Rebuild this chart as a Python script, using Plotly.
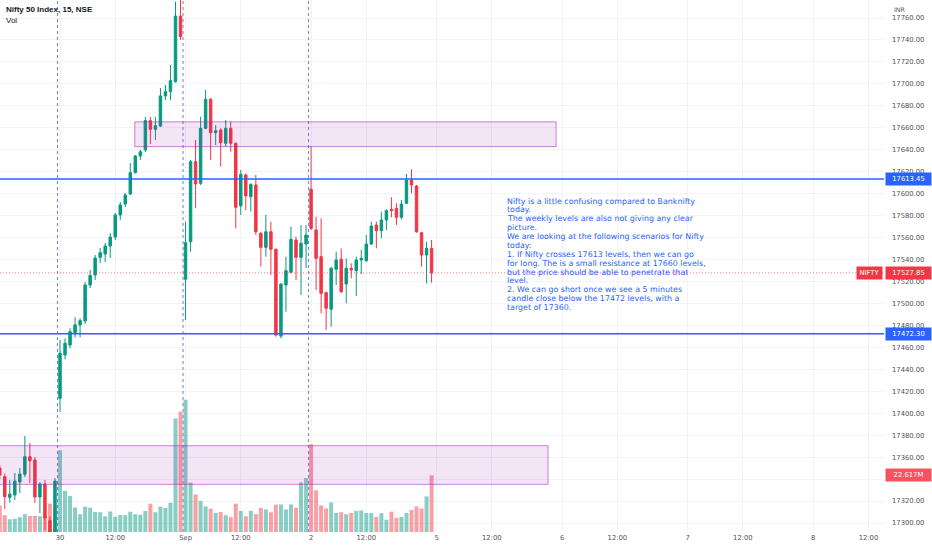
import numpy as np
import plotly.graph_objects as go

# Nifty 50 Index, 15 min candles, NSE: tail of 29 Aug, then 30 Aug, 1 Sep, 2 Sep
# index 0 = 30 Aug 09:15 (first bar of the day)
opens = [
    17350.1, 17342.2, 17323.4, 17325.5, 17337.3, 17344.4, 17360.4, 17357.4, 17323.7, 17335.5, 17302.1, 17288.0,
    17413.6, 17453.0, 17462.1, 17473.3, 17480.4, 17484.0, 17516.8, 17525.9, 17542.0, 17545.0, 17552.3, 17560.5,
    17580.6, 17590.6, 17599.7, 17619.1, 17634.3, 17639.8, 17666.5, 17658.6, 17661.6, 17689.0, 17692.9, 17702.0, 17761.8,
    17522.0, 17556.2, 17629.1, 17609.4, 17659.5, 17686.0, 17655.5, 17658.0, 17645.9, 17659.5, 17645.9, 17588.8,
    17617.0, 17597.2, 17607.9, 17563.9, 17551.1, 17565.3, 17549.3, 17470.3, 17516.8, 17528.4, 17557.8, 17542.0, 17554.1,
    17604.0, 17566.9, 17542.6, 17509.8, 17494.7, 17531.1, 17540.2, 17517.7, 17532.0, 17529.8, 17539.6, 17538.9,
    17554.1, 17571.4, 17566.3, 17576.0, 17585.7, 17586.6, 17578.5, 17591.2, 17612.4, 17607.0, 17564.4, 17544.1, 17550.2,
]
highs = [
    17353.0, 17345.0, 17339.2, 17345.5, 17350.1, 17379.2, 17372.9, 17360.1, 17337.3, 17339.2, 17306.0, 17341.0,
    17466.7, 17468.2, 17477.4, 17487.4, 17486.5, 17519.5, 17530.5, 17544.1, 17550.5, 17555.1, 17564.2, 17582.4,
    17592.4, 17600.6, 17627.9, 17635.2, 17639.8, 17669.8, 17669.8, 17670.1, 17696.2, 17699.0, 17717.2, 17774.9, 17777.6,
    17574.5, 17630.7, 17648.9, 17670.1, 17694.4, 17686.9, 17662.5, 17659.5, 17667.1, 17665.6, 17646.4, 17621.6,
    17618.5, 17609.4, 17617.0, 17565.3, 17580.6, 17574.5, 17550.2, 17518.3, 17542.6, 17569.9, 17560.8, 17571.4, 17571.4,
    17643.1, 17579.0, 17577.5, 17510.7, 17533.5, 17547.1, 17550.2, 17541.1, 17536.6, 17542.6, 17548.7, 17562.3,
    17574.5, 17574.5, 17583.6, 17585.7, 17596.7, 17591.2, 17594.2, 17617.9, 17622.2, 17607.9, 17565.3, 17556.2, 17557.8,
]
lows = [
    17340.0, 17312.7, 17318.2, 17320.9, 17327.3, 17341.8, 17336.4, 17318.2, 17309.0, 17293.6, 17284.0, 17283.0,
    17401.4, 17449.1, 17459.1, 17469.1, 17469.1, 17481.3, 17514.1, 17521.4, 17536.8, 17537.7, 17541.4, 17557.8,
    17576.0, 17587.8, 17598.8, 17618.5, 17630.7, 17638.0, 17645.2, 17648.9, 17660.7, 17685.3, 17685.3, 17701.1, 17740.0,
    17484.9, 17547.1, 17586.7, 17607.9, 17658.6, 17630.7, 17644.3, 17624.6, 17642.8, 17638.2, 17568.4, 17580.6,
    17585.1, 17583.6, 17562.3, 17533.5, 17542.6, 17525.9, 17469.7, 17468.2, 17492.5, 17527.4, 17521.4, 17507.7, 17532.3,
    17566.9, 17512.2, 17491.0, 17475.8, 17478.8, 17516.8, 17509.5, 17500.1, 17522.9, 17506.8, 17526.8, 17538.0,
    17553.2, 17550.2, 17559.3, 17566.9, 17578.5, 17571.4, 17576.6, 17590.6, 17600.3, 17564.4, 17533.5, 17518.3, 17518.9,
]
closes = [
    17343.7, 17324.0, 17326.4, 17338.2, 17344.6, 17360.4, 17356.7, 17323.7, 17335.5, 17304.5, 17290.0, 17338.2,
    17454.6, 17463.7, 17474.3, 17480.4, 17484.3, 17516.8, 17525.4, 17541.4, 17546.2, 17552.3, 17560.5, 17580.6,
    17589.7, 17598.8, 17619.1, 17634.3, 17638.2, 17666.5, 17658.6, 17661.9, 17689.0, 17692.9, 17702.9, 17761.8, 17743.0,
    17555.3, 17629.1, 17608.8, 17659.5, 17686.0, 17655.5, 17657.3, 17646.4, 17659.5, 17645.9, 17587.6, 17617.6,
    17597.9, 17608.5, 17565.3, 17551.1, 17565.3, 17549.3, 17471.2, 17517.7, 17529.8, 17558.4, 17542.0, 17554.8, 17562.3,
    17568.4, 17541.1, 17509.2, 17495.6, 17532.0, 17539.6, 17510.7, 17532.0, 17530.5, 17539.6, 17541.1, 17554.1,
    17570.5, 17566.3, 17576.0, 17584.5, 17584.5, 17578.5, 17590.6, 17612.4, 17607.9, 17565.3, 17544.1, 17550.2, 17527.85,
]
# volume in millions
volumes_m = [
    10.6, 6.7, 5.1, 5.3, 5.9, 7.1, 6.4, 6.4, 6.3, 6.3, 11.3, 10.0,
    32.6, 16.4, 14.4, 9.8, 7.1, 10.1, 9.7, 8.0, 7.9, 6.3, 8.2, 6.1,
    6.8, 6.7, 8.1, 7.1, 6.9, 8.4, 11.3, 7.9, 10.1, 9.6, 11.7, 45.3, 48.0,
    52.8, 19.7, 15.0, 12.4, 10.2, 9.3, 7.6, 8.0, 6.7, 5.9, 11.3, 8.4,
    6.3, 8.4, 7.1, 9.6, 9.0, 7.9, 10.9, 11.0, 9.0, 11.0, 9.7, 19.8, 21.5,
    35.0, 16.6, 10.6, 9.4, 11.8, 7.6, 7.9, 7.1, 7.6, 8.4, 8.6, 7.6,
    7.5, 6.0, 7.5, 4.9, 8.1, 5.6, 6.0, 7.6, 8.8, 10.2, 9.4, 14.2, 22.617,
]
first_idx = -12
day_starts = [0, 25, 50]

tick_idx = [0, 11, 25, 36, 50, 61, 75, 86, 100, 111, 125, 136, 150, 161]
tick_text = ["30", "12:00", "Sep", "12:00", "2", "12:00", "5", "12:00",
             "6", "12:00", "7", "12:00", "8", "12:00"]

level_hi = 17613.45
level_lo = 17472.30
last_price = closes[-1]
resist_zone = [17642.8, 17665.4]
target_zone = [17335.2, 17370.4]

note_lines = [
    "Nifty is a little confusing compared to Banknifty",
    "today.",
    "The weekly levels are also not giving any clear",
    "picture.",
    "We are looking at the following scenarios for Nifty",
    "today:",
    "1. If Nifty crosses 17613 levels, then we can go",
    "for long. The is a small resistance at 17660 levels,",
    "but the price should be able to penetrate that",
    "level.",
    "2. We can go short once we see a 5 minutes",
    "candle close below the 17472 levels, with a",
    "target of 17360.",
]

UP = "#089981"
DOWN = "#f23645"
BLUE = "#2962ff"
GRID = "#f0f3fa"
TXT = "#50535e"
FONT = "DejaVu Sans"

x = np.arange(first_idx, first_idx + len(opens))
vol = np.array(volumes_m) * 1e6
vol_colors = ["rgba(8,153,129,0.48)" if c >= o else "rgba(242,54,69,0.48)"
              for o, c in zip(opens, closes)]

fig = go.Figure()
# volume on base axis so candles (overlay axis) sit on top
fig.add_trace(go.Bar(x=x, y=vol, marker_color=vol_colors, marker_line_width=0,
                     xaxis="x", yaxis="y", hoverinfo="skip"))
fig.add_trace(go.Candlestick(
    x=x, open=opens, high=highs, low=lows, close=closes,
    xaxis="x", yaxis="y2",
    increasing=dict(line=dict(color=UP, width=1), fillcolor=UP),
    decreasing=dict(line=dict(color=DOWN, width=1), fillcolor=DOWN),
    whiskerwidth=0,
))

shapes = []
for d in day_starts:
    shapes.append(dict(type="line", xref="x", yref="paper", x0=d - 0.5, x1=d - 0.5, y0=0, y1=1,
                       line=dict(color="#6f7fe0", width=1, dash="3px,3px"), layer="above"))
# zones
shapes.append(dict(type="rect", xref="x", yref="y2", x0=14.9, x1=98.8,
                   y0=resist_zone[0], y1=resist_zone[1],
                   fillcolor="rgba(156,39,176,0.12)", line=dict(color="rgba(156,39,176,0.55)", width=1),
                   layer="above"))
shapes.append(dict(type="rect", xref="x", yref="y2", x0=-20, x1=97.2,
                   y0=target_zone[0], y1=target_zone[1],
                   fillcolor="rgba(156,39,176,0.12)", line=dict(color="rgba(156,39,176,0.55)", width=1),
                   layer="above"))
for lvl in (level_hi, level_lo):
    shapes.append(dict(type="line", xref="paper", yref="y2", x0=0, x1=1, y0=lvl, y1=lvl,
                       line=dict(color=BLUE, width=1.5), layer="above"))
shapes.append(dict(type="line", xref="paper", yref="y2", x0=0, x1=1, y0=last_price, y1=last_price,
                   line=dict(color="rgba(242,54,69,0.65)", width=1, dash="1px,2px"), layer="above"))

annotations = [
    dict(text="<b>Nifty 50 Index, 15, NSE</b>", xref="paper", yref="paper", x=0, y=1,
         xanchor="left", yanchor="top", xshift=4, yshift=-3, showarrow=False,
         font=dict(family="Liberation Sans", size=8, color="#131722")),
    dict(text="Vol", xref="paper", yref="paper", x=0, y=1, xanchor="left", yanchor="top",
         xshift=4, yshift=-14, showarrow=False,
         font=dict(family="Liberation Sans", size=8, color="#131722")),
    dict(text="INR", xref="paper", yref="paper", x=1, y=1, xanchor="left", yanchor="top",
         xshift=8, yshift=-4, showarrow=False, font=dict(family=FONT, size=6.3, color=TXT)),
]

# trading idea note, one annotation per line (tighter line spacing than <br>)
note_x, note_top, note_step = 88.7, 17593.3, 8.09
for k, line in enumerate(note_lines):
    annotations.append(dict(text=line, xref="x", yref="y2", x=note_x, y=note_top - k * note_step,
                            xanchor="left", yanchor="middle", showarrow=False,
                            font=dict(family=FONT, size=7.9, color=BLUE)))


def price_tag(text, y, yref, color, xshift=1, xanchor="left", width=43):
    return dict(text=text, xref="paper", yref=yref, x=1, y=y, xanchor=xanchor, yanchor="middle",
                xshift=xshift, showarrow=False, bgcolor=color, width=width, height=10,
                borderpad=1, font=dict(family=FONT, size=6.8, color="white"))


annotations += [
    price_tag(f"{level_hi:.2f}", level_hi, "y2", BLUE),
    price_tag(f"{level_lo:.2f}", level_lo, "y2", BLUE),
    price_tag(f"{last_price:.2f}", last_price, "y2", DOWN),
    price_tag("NIFTY", last_price, "y2", DOWN, xshift=-1, xanchor="right", width=23),
    price_tag(f"{volumes_m[-1]:.3f}M", vol[-1], "y", "#f7525f"),
]

fig.update_layout(
    width=932, height=550,
    margin=dict(l=0, r=48, t=0, b=18),
    paper_bgcolor="white", plot_bgcolor="white",
    showlegend=False, bargap=0.2,
    font=dict(family=FONT, size=6.8, color=TXT),
    xaxis=dict(range=[-11.95, 164.1], tickmode="array", tickvals=tick_idx, ticktext=tick_text,
               showgrid=True, gridcolor=GRID, zeroline=False, showline=False, ticks="",
               rangeslider=dict(visible=False), tickfont=dict(size=6.8, color=TXT)),
    yaxis=dict(range=[0, 212.2e6], visible=False, showgrid=False, zeroline=False),
    yaxis2=dict(overlaying="y", side="right", range=[17291.8, 17776.4], tick0=17300, dtick=20,
                tickformat=".2f", showgrid=True, gridcolor=GRID, zeroline=False, showline=False,
                ticks="", ticklabelstandoff=7, tickfont=dict(size=6.8, color=TXT)),
    shapes=shapes,
    annotations=annotations,
)

fig.write_html("out.html", config={"displayModeBar": False},
               post_script="document.body.style.margin='0px';")
